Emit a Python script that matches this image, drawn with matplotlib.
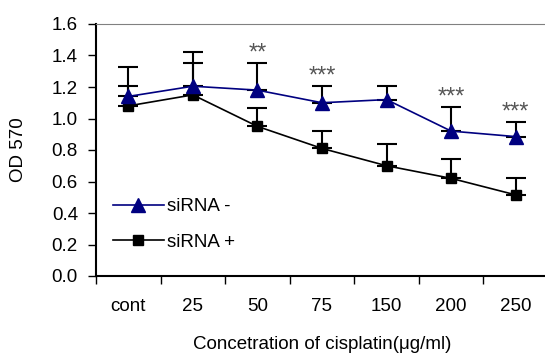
import numpy as np
import matplotlib
matplotlib.use('Agg')
import matplotlib.pyplot as plt

plt.rcParams['font.family'] = ['Liberation Sans', 'DejaVu Sans']

# 데이터
categories = ['cont', '25', '50', '75', '150', '200', '250']
sirna_minus = [1.14, 1.205, 1.18, 1.10, 1.12, 0.92, 0.885]
sirna_minus_top = [1.325, 1.42, 1.35, 1.205, 1.205, 1.075, 0.975]
sirna_plus = [1.08, 1.15, 0.95, 0.81, 0.70, 0.62, 0.515]
sirna_plus_top = [1.205, 1.35, 1.065, 0.92, 0.835, 0.74, 0.625]
stars = ['', '', '**', '***', '', '***', '***']

x = np.arange(len(categories))
err_minus = np.array(sirna_minus_top) - np.array(sirna_minus)
err_plus = np.array(sirna_plus_top) - np.array(sirna_plus)
zeros = np.zeros(len(categories))

fig = plt.figure(figsize=(5.45, 3.58), dpi=100)
ax = fig.add_axes([96/545, 82/358, 452/545, 252/358])

fs = 13.5

# 에러바 (위쪽만)
ax.errorbar(x, sirna_plus, yerr=[zeros, err_plus], fmt='none', ecolor='black',
            elinewidth=1.5, capsize=7, capthick=1.5, zorder=2)
ax.errorbar(x, sirna_minus, yerr=[zeros, err_minus], fmt='none', ecolor='black',
            elinewidth=1.5, capsize=7, capthick=1.5, zorder=2)

ax.plot(x, sirna_plus, color='black', marker='s', markersize=7, lw=1.2,
        label='siRNA +', zorder=3)
ax.plot(x, sirna_minus, color='#000080', marker='^', markersize=9.5, lw=1.2,
        label='siRNA -', zorder=4)

# 유의성 표시
for xi, top, s in zip(x, sirna_minus_top, stars):
    if s:
        ax.annotate(s, (xi, top), xytext=(0, -1), textcoords='offset points',
                    ha='center', va='bottom', fontsize=17, color='#555555')

ax.set_xlim(-0.5, 6.5)
ax.set_ylim(0, 1.6)
ax.set_yticks(np.arange(0, 1.61, 0.2))
ax.set_yticklabels([f'{v:.1f}' for v in np.arange(0, 1.61, 0.2)])
ax.set_xticks(np.arange(-0.5, 6.6, 1))
ax.set_xticklabels([])
ax.set_xticks(x, minor=True)
ax.set_xticklabels(categories, minor=True)
ax.tick_params(axis='x', which='minor', length=0, pad=16, labelsize=fs)
ax.tick_params(axis='x', which='major', length=6, width=1, direction='out')
ax.tick_params(axis='y', length=6, width=1, direction='out', pad=7, labelsize=fs)

ax.spines['right'].set_visible(False)
ax.spines['top'].set_color('#808080')
ax.spines['left'].set_linewidth(1.5)
ax.spines['bottom'].set_linewidth(1.5)

ax.set_xlabel('Concetration of cisplatin(μg/ml)', fontsize=fs, labelpad=15)
ax.set_ylabel('OD 570', fontsize=fs, labelpad=18)

handles, labels = ax.get_legend_handles_labels()
ax.legend(handles[::-1], labels[::-1], loc='upper left', frameon=False,
          bbox_to_anchor=(113/545, 160/358), bbox_transform=fig.transFigure,
          fontsize=fs, handlelength=2.7, handletextpad=0.2, labelspacing=1.0,
          borderpad=0, borderaxespad=0)

fig.savefig('out.png', dpi=100)
